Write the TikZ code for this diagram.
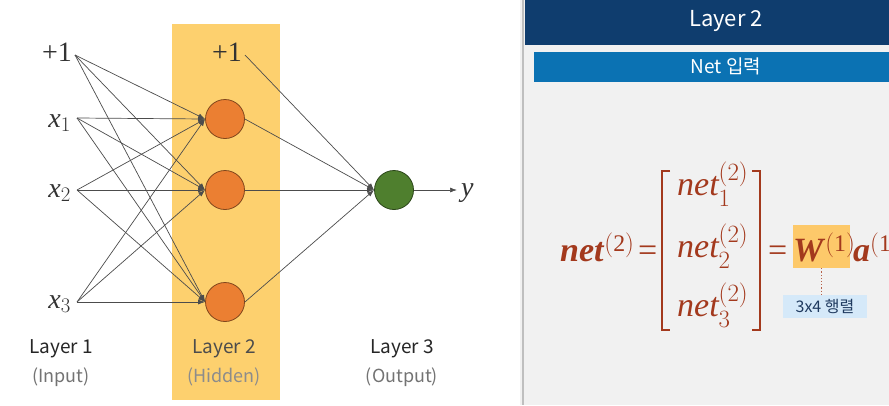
\documentclass[tikz,border=0pt]{standalone}
\usepackage{amsmath}
\usepackage{fontspec}
\setmainfont{Liberation Serif}
\newfontfamily\krfont{Noto Sans CJK KR}
\usetikzlibrary{arrows.meta,positioning}

\definecolor{layeryel}{HTML}{FDD06E}
\definecolor{hidorange}{HTML}{EB7F32}
\definecolor{outgreen}{HTML}{4F7F2E}
\definecolor{panelgrey}{HTML}{F1F1F1}
\definecolor{hdrblue}{HTML}{0F3D6E}
\definecolor{barblue}{HTML}{0B72B3}
\definecolor{eqred}{HTML}{A3391D}
\definecolor{wyel}{HTML}{FDC96A}
\definecolor{tagblue}{HTML}{D5E9F9}
\definecolor{tagtext}{HTML}{1F3A5F}

\begin{document}
\begin{tikzpicture}[x=1pt,y=-1pt,
  conn/.style={-{Latex[length=7pt,width=5pt]},draw=black!70,line width=0.7pt},
  neuron/.style={circle,draw=#1!55!black,fill=#1,minimum size=39pt,
                 inner sep=0pt,line width=0.8pt},
  inlab/.style={font=\fontsize{28}{30}\selectfont,inner sep=0pt,anchor=base east,
                text=black!80},
  laylab/.style={font=\krfont\fontsize{19}{22}\selectfont,text=black!85},
  sublab/.style={font=\krfont\fontsize{18}{22}\selectfont,text=black!55},
  eqn/.style={font=\fontsize{34}{40}\selectfont,text=eqred,inner sep=0pt,
              anchor=base west}]
\useasboundingbox (0,0) rectangle (889,405);
\fill[white] (0,0) rectangle (520,405);
\fill[layeryel] (172,24) rectangle (280,400);
% input layer
\node[inlab] (b1) at (72,61) {+1};
\node[inlab] (x1) at (71,127) {$\mathit{x}_1$};
\node[inlab] (x2) at (71,197) {$\mathit{x}_2$};
\node[inlab] (x3) at (71,308) {$\mathit{x}_3$};
\coordinate (i0) at (75,55);
\coordinate (i1) at (77,118);
\coordinate (i2) at (77,190);
\coordinate (i3) at (77,302);
% hidden and output layer
\node[neuron=hidorange] (h1) at (225,119) {};
\node[neuron=hidorange] (h2) at (225,190) {};
\node[neuron=hidorange] (h3) at (225,302) {};
\node[inlab] (b2) at (242,61) {+1};
\coordinate (hb) at (245,55);
\node[neuron=outgreen] (out) at (394,190) {};
\coordinate (yend) at (457,190);
\node[inlab,anchor=base west] (ylab) at (461,196) {$\mathit{y}$};
\foreach \i in {i0,i1,i2,i3}
  \foreach \h in {h1,h2,h3}
    \draw[conn] (\i) -- (\h.west);
\foreach \h in {hb,h1.east,h2.east,h3.east}
  \draw[conn] (\h) -- (out.west);
\draw[conn] (out.east) -- (yend);
% layer captions
\node[laylab] (l1) at (61,349) {Layer 1};
\node[sublab] (l1s) at (61,377) {(Input)};
\node[laylab,text=black!70] (l2) at (224,349) {Layer 2};
\node[sublab,text=black!45] (l2s) at (224,377) {(Hidden)};
\node[laylab] (l3) at (402,349) {Layer 3};
\node[sublab] (l3s) at (402,377) {(Output)};
% right panel
\fill[panelgrey] (520,0) rectangle (889,405);
\draw[black!25,line width=1.5pt] (523,0) -- (523,405);
\fill[hdrblue] (525,0) rectangle (889,45);
\node[font=\krfont\fontsize{22}{26}\selectfont,text=white] (hdr) at (726,21) {Layer 2};
\fill[barblue] (534,52) rectangle (889,82);
\node[font=\krfont\fontsize{19}{22}\selectfont,text=white] (sub) at (726,66) {Net 입력};
% equation
\node[eqn] (lhs) at (560,261) {\textbf{\textit{net}}$^{\mathrm{(2)}}$};
\node[eqn] (eqa) at (638,261) {=};
\node[eqn] (n1) at (677,195) {$\mathit{net}^{(2)}_1$};
\node[eqn] (n2) at (677,257) {$\mathit{net}^{(2)}_2$};
\node[eqn] (n3) at (677,316) {$\mathit{net}^{(2)}_3$};
\draw[eqred,line width=1.6pt] (670,171) -| (662,330) -- (670,330);
\draw[eqred,line width=1.6pt] (752,171) -| (760,330) -- (752,330);
\node[eqn] (eqb) at (768,261) {=};
\node[fill=wyel,minimum width=57pt,minimum height=43pt,inner sep=0pt] (wbox) at (821.5,246.5) {};
\node[eqn] (wsym) at (793,261) {\textbf{\textit{W}}$^{\mathrm{(1)}}$};
\node[eqn] (asym) at (853,261) {\textbf{\textit{a}}$^{\mathrm{(1)}}$};
\node[fill=tagblue,minimum width=84pt,minimum height=23pt,inner sep=0pt,
      font=\krfont\fontsize{16}{18}\selectfont,text=tagtext] (dimlab) at (825,306.5) {3x4 행렬};
\draw[dotted,draw=eqred!80,line width=1.2pt] (wbox.south) -- (wbox.south |- dimlab.north);
\end{tikzpicture}
\end{document}
